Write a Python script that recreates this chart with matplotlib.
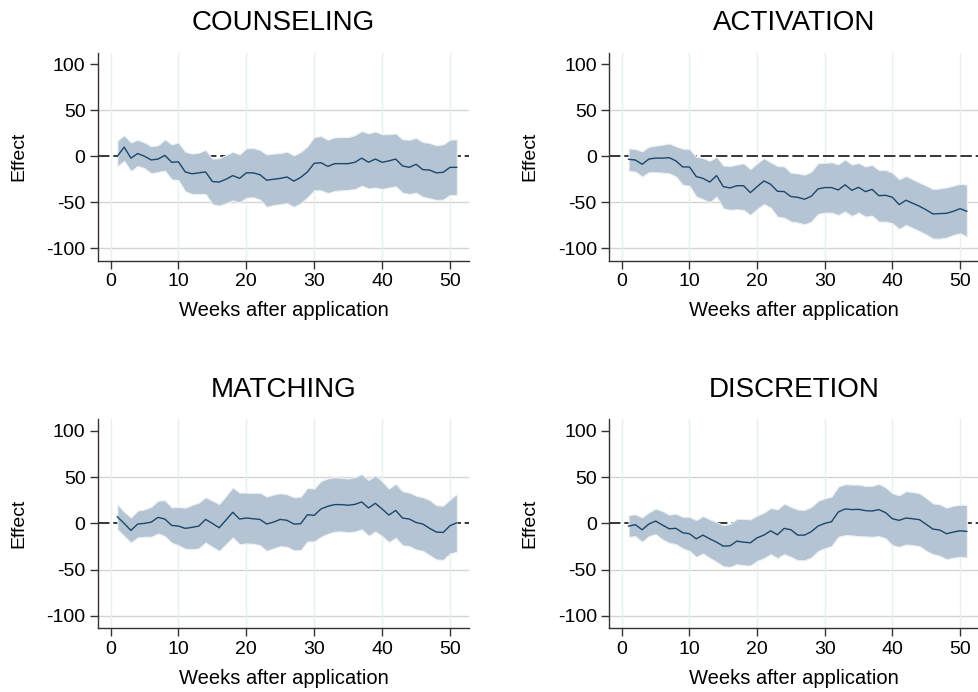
import matplotlib
matplotlib.use("Agg")
import matplotlib.pyplot as plt
import numpy as np

plt.rcParams['font.family'] = ['Liberation Sans', 'DejaVu Sans']
plt.rcParams['axes.unicode_minus'] = False

weeks = np.arange(1, 52)

# COUNSELING
couns_eff = [0, 10, -2, 3, 0, -4, -3, 1, -6.5, -6, -17, -19, -18, -17, -27.5, -28, -25, -21, -24, -18,
             -18, -20, -26, -25, -24, -22.5, -27, -23, -17, -7.6, -7, -11, -8, -8, -8, -6.5, -2, -6.5, -3, -6.5,
             -5, -3, -10.5, -12, -8.7, -14.5, -15, -18, -17.4, -12, -12]
couns_hi = [17, 23, 15, 18, 15, 11, 12, 18.5, 13, 15, 5, 3, 4, 7, -2.5, -2, 1.4, 5, 2, 8.7,
            9, 7, 2, 3, 3.6, 5, 1, 4.7, 11, 21, 22, 18, 20.6, 21, 21, 23, 27.5, 25, 27, 24,
            24, 25, 18.5, 18, 20, 15.6, 14.5, 12, 13, 18, 18.5]
couns_lo = [-11, -5, -16, -10.5, -13, -18.5, -17, -15.6, -25, -26, -38, -41, -41, -41, -52, -53.6, -51, -48, -50, -45,
            -44.6, -47, -55, -53, -52, -51, -55, -51, -44.6, -37, -37, -40, -37.7, -37, -36.6, -35.5, -32, -35, -34, -35.5,
            -34, -32.6, -39.5, -41, -39.5, -44, -45.6, -47.5, -47, -42, -42]

# ACTIVATION
activ_eff = [-3.3, -4, -8.7, -3, -2, -2, -1.5, -5, -11.6, -11.6, -22, -24, -28, -21, -33, -34.4, -32, -32, -39.5, -33,
             -26.8, -30.4, -38, -38.4, -43.8, -44.6, -46.7, -43.5, -35.5, -34, -34, -36.6, -31, -37, -33.7, -38.4, -36, -42.8, -42.4, -44.6,
             -52.5, -47.8, -51, -54.3, -58.3, -62.7, -62.3, -62, -59.8, -57, -59.8]
activ_hi = [8.7, 8, 5.4, 10.5, 11.6, 12.7, 14, 11, 8.3, 8, -0.4, -1.8, -5, -0.4, -10, -10.5, -9, -7.6, -13.8, -7.6,
            -2, -6.5, -10.5, -11, -17.8, -18.5, -20, -16.7, -7.6, -7, -6.5, -8.7, -3.3, -9, -7.2, -11, -9.4, -14.9, -14.9, -17.8,
            -25, -21.4, -25, -28.6, -31.9, -35.5, -35, -33.7, -31.9, -30, -30.8]
activ_lo = [-16, -16.7, -22, -17.4, -17.4, -17.8, -18.5, -22, -31, -32, -43.8, -46.7, -50, -43.8, -56.5, -58.3, -57.6, -58.3, -63.8, -57.2,
            -52, -55.8, -65.6, -66.7, -71, -72, -74, -71, -62.7, -61.2, -61.2, -63.8, -60, -64.9, -61.2, -65.6, -64.5, -71, -71, -72.8,
            -79, -74.6, -78, -81.5, -85, -89.5, -89.5, -88.4, -85.5, -83.7, -87.3]

# MATCHING
match_eff = [7.2, 0, -7.6, -0.7, 0, 1.4, 6.5, 4.7, -2.2, -2.9, -5.4, -4.3, -2.9, 4.3, 0, -4.7, 3.6, 12, 4.7, 5.8,
             5, 4.3, -0.7, 1.4, 4.3, 3.3, -0.7, -0.4, 9.4, 8.7, 15.6, 18.5, 20.3, 20.3, 19.6, 20.6, 23.2, 16.7, 21.7, 15.6,
             9, 14, 5.8, 4.7, 1, -0.7, -5.4, -9.4, -9.8, -2.5, 0.7]
match_hi = [20.6, 12.7, 6.5, 13.8, 15.2, 18, 24.6, 25, 17.4, 17.8, 17, 20, 22.5, 28.3, 24.6, 21, 29.7, 39, 33.3, 33.3,
            33, 33.3, 29, 31.2, 32.6, 31.5, 28.3, 29, 38.4, 37.7, 46, 48.6, 50, 49.3, 48.6, 50, 53.3, 47, 52, 45.6,
            37.7, 42.8, 34.8, 33.3, 30, 28.3, 25.4, 19.6, 19.2, 26, 31.9]
match_lo = [-6.2, -13.8, -20.7, -15.2, -14.5, -14.5, -10.9, -13.8, -21, -23.6, -27.5, -27.9, -27, -20.7, -25.4, -29.7, -22.5, -15.2, -22.5, -21.7,
            -22, -23.6, -29.7, -27, -24.6, -25.4, -29, -29, -19.6, -19.6, -14.5, -11.2, -9, -8.7, -9.8, -8.7, -6.5, -13.4, -8.7, -13.8,
            -20.3, -15.6, -23.6, -24.6, -28.3, -29.7, -34.4, -39, -39.5, -32.6, -30.8]

# DISCRETION
discr_eff = [-2.9, -1.4, -6.9, -0.7, 2.5, -1.8, -5.8, -5.4, -10.1, -11.2, -16.7, -12.7, -16.7, -20.3, -24.6, -24.3, -19.2, -20.3, -21, -15.6,
             -12.7, -8, -12.3, -5.4, -6.9, -12.7, -12.7, -9, -2.9, 0, 1.8, 12.3, 15.6, 14.9, 15.2, 13.8, 13.4, 14.9, 11.6, 5,
             3.3, 5.8, 5, 4, -1.1, -6.2, -7.2, -11.2, -9.4, -8, -8.7]
discr_hi = [9, 9.8, 6.5, 12, 16, 13.4, 9.4, 10.5, 7.2, 7.2, 3.6, 8, 4.3, 1.4, -1.8, -0.4, 5, 5, 4.3, 8.7,
            11.6, 16.7, 15.2, 21.4, 18, 15, 14.5, 17.8, 24.3, 27.2, 29, 39.9, 42.4, 42, 42, 40.6, 40.6, 42.8, 39, 32.6,
            30.4, 34.8, 34, 32.6, 27.5, 21.7, 20.7, 17, 19.2, 20.3, 20]
discr_lo = [-14.5, -13.8, -20, -13.8, -11.6, -17.4, -21, -22.5, -27, -29.7, -36.2, -32.6, -37.3, -41.7, -46.4, -47, -44.2, -45.3, -45.7, -40.6,
            -37.7, -33.3, -37.7, -33.3, -36.2, -39.9, -39.9, -37, -30, -26.8, -24.6, -14.5, -12.7, -13, -13.8, -14.1, -14.5, -13.8, -16.3, -23.6,
            -25.4, -22.8, -23.6, -24.6, -29.7, -33.3, -35.1, -38.8, -37.3, -36.2, -37]

titles = ["COUNSELING", "ACTIVATION", "MATCHING", "DISCRETION"]
panels = [(couns_eff, couns_lo, couns_hi), (activ_eff, activ_lo, activ_hi),
          (match_eff, match_lo, match_hi), (discr_eff, discr_lo, discr_hi)]

W, H = 979, 692
fig = plt.figure(figsize=(W / 100, H / 100), dpi=100)

# axes boxes in pixels: left, top, right, bottom
boxes = [(98, 52.7, 469, 260.7), (609.3, 52.7, 979, 260.7),
         (98, 419.3, 469, 628.3), (609.3, 419.3, 979, 628.3)]

for (l, t, r, b), title, (eff, lo, hi) in zip(boxes, titles, panels):
    ax = fig.add_axes([l / W, 1 - b / H, (r - l) / W, (b - t) / H])
    ax.set_xlim(-1.85, 52.8)
    ax.set_ylim(-113.5, 112.6)

    # grid
    for yv in [-100, -50, 50]:
        ax.axhline(yv, color='#d4d4d4', lw=1.0, zorder=0)
    for xv in range(0, 51, 10):
        ax.axvline(xv, color='#e8f0f2', lw=1.0, zorder=0)

    ax.axhline(0, color='black', lw=1.1, dashes=(7.5, 2.5), zorder=1)
    ax.fill_between(weeks, lo, hi, color='#b4c4d2', edgecolor='#edf1f5', lw=0.8, zorder=2)
    ax.plot(weeks, eff, color='#1a476f', lw=1.0, zorder=3)

    ax.set_title(title, fontsize=20, pad=16)
    ax.set_xticks(range(0, 51, 10))
    ax.set_yticks([-100, -50, 0, 50, 100])
    ax.tick_params(labelsize=14, length=5.5, width=1, color='#333333', pad=3.5)
    ax.set_xlabel("Weeks after application", fontsize=14.5, labelpad=8)
    ax.set_ylabel("Effect", fontsize=14, labelpad=14)

    for s in ['top', 'right']:
        ax.spines[s].set_visible(False)
    for s in ['left', 'bottom']:
        ax.spines[s].set_color('#333333')
        ax.spines[s].set_linewidth(1.0)

fig.savefig("out.png", dpi=100)
